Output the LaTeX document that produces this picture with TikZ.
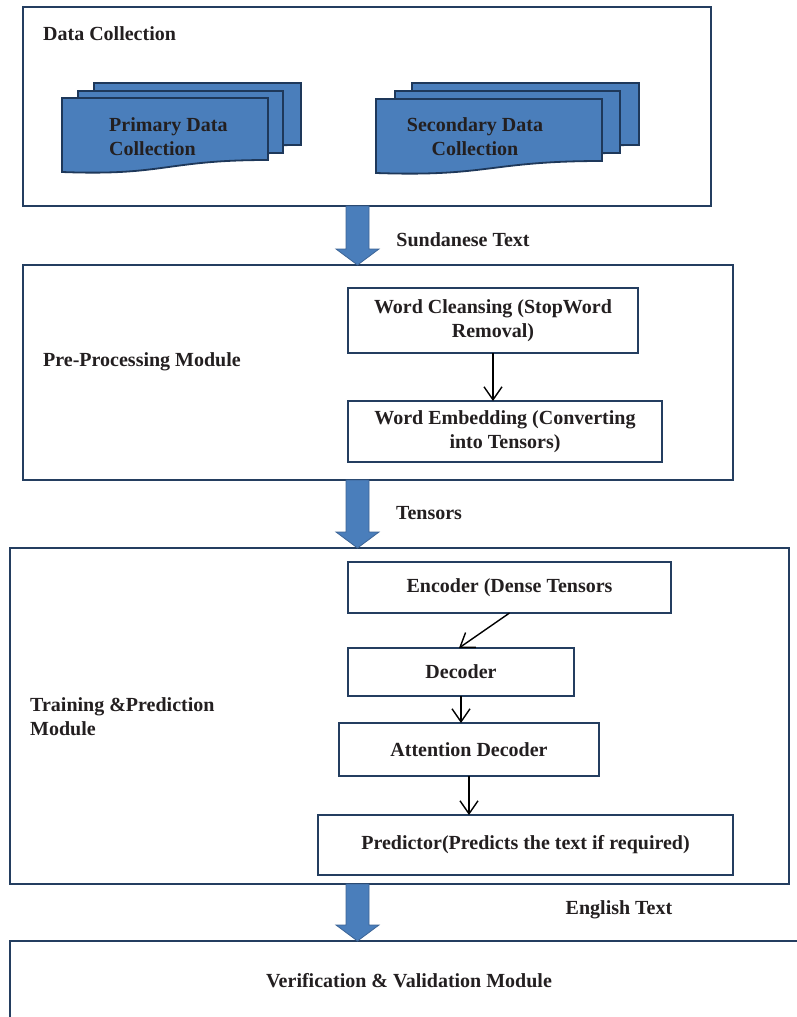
\documentclass[tikz,border=0pt]{standalone}
\usepackage{fontspec}
\setmainfont{Liberation Serif}
\usetikzlibrary{arrows.meta,calc}
\definecolor{navy}{RGB}{36,62,96}
\definecolor{docblue}{RGB}{74,126,187}
\definecolor{docline}{RGB}{30,56,90}
\definecolor{arrline}{RGB}{60,100,150}
\definecolor{txt}{RGB}{35,31,32}
\newcommand\docshape[3]{%
  \draw[docpage] (#1,#2) -- ++(#3,0) -- ++(0,62)
    .. controls +(-#3/2,0) and +(#3/2,4) .. ++(-#3,12) -- cycle;}
\newcommand\bigarr[2]{%
  \draw[bigarrow] let \p1=(#1), \p2=(#2) in
    (\x1-11.5pt,\y1) -- (\x1+11.5pt,\y1) -- (\x1+11.5pt,\y2+16pt) -- (\x1+21.5pt,\y2+16pt)
    -- (\x1,\y2) -- (\x1-21.5pt,\y2+16pt) -- (\x1-11.5pt,\y2+16pt) -- cycle;}
\begin{document}
\begin{tikzpicture}[x=1pt,y=-1pt,
  every node/.style={font=\fontsize{20}{24}\selectfont\bfseries, text=txt},
  modbox/.style={draw=navy, line width=2pt, inner sep=0pt, outer sep=0pt, rectangle},
  stepbox/.style={draw=navy, line width=2pt, inner sep=0pt, outer sep=0pt, align=center},
  lbl/.style={inner sep=0pt, anchor=west, align=left},
  docpage/.style={fill=docblue, draw=docline, line width=1.8pt, line join=miter},
  bigarrow/.style={fill=docblue, draw=arrline, line width=0.8pt},
  thinarrow/.style={draw=black, line width=1.4pt, -{Straight Barb[length=13pt,width=18pt]}},
]
\useasboundingbox (0,0) rectangle (796,1017);
\fill[white] (0,0) rectangle (796,1017);

% module boxes
\node[modbox, minimum width=688pt, minimum height=199pt] (box1) at (367,106.5) {};
\node[modbox, minimum width=710pt, minimum height=215pt] (box2) at (378,372.5) {};
\node[modbox, minimum width=779pt, minimum height=336pt] (box3) at (399.5,716) {};
\node[modbox, minimum width=810pt, minimum height=99pt] (box4) at (415,990.5) {};

% documents
\docshape{94}{83}{207}
\docshape{78}{91}{205}
\docshape{62}{98}{206}
\docshape{412}{83}{227}
\docshape{395}{91}{225}
\docshape{376}{99}{226}
\node[lbl] (prim) at (109,137) {Primary Data\\Collection};
\node[align=center, inner sep=0pt] (sec) at (475,137) {Secondary Data\\Collection};

% labels
\node[lbl] (l1) at (43,34) {Data Collection};
\node[lbl] (l2) at (43,362) {Pre-Processing Module};
\node[lbl] (l3) at (30,717) {Training \&Prediction\\Module};
\node[inner sep=0pt] (l4) at (463,240) {Sundanese Text};
\node[inner sep=0pt] (l5) at (429,513) {Tensors};
\node[inner sep=0pt] (l6) at (619,910) {English Text};
\node[inner sep=0pt] (l7) at (409,981) {Verification \& Validation Module};

% inner step boxes
\node[stepbox, minimum width=290pt, minimum height=65pt] (wc) at (493,320.5) {Word Cleansing (StopWord\\Removal)};
\node[stepbox, minimum width=314pt, minimum height=61pt] (we) at (505,431.5) {Word Embedding (Converting\\into Tensors)};
\node[stepbox, minimum width=323pt, minimum height=51pt] (enc) at (509.5,587.5) {Encoder (Dense Tensors};
\node[stepbox, minimum width=226pt, minimum height=48pt] (dec) at (461,672) {Decoder};
\node[stepbox, minimum width=260pt, minimum height=53pt] (att) at (469,749.5) {Attention Decoder};
\node[stepbox, minimum width=415pt, minimum height=60pt] (pred) at (525.5,845) {Predictor(Predicts the text if required)};

% thin connectors
\draw[thinarrow] (wc.south) -- (wc.south |- we.north);
\draw[thinarrow] (enc.south) -- ([xshift=-2pt]dec.north);
\draw[thinarrow] (dec.south) -- (dec.south |- att.north);
\draw[thinarrow] (att.south) -- (att.south |- pred.north);

% big arrows
\coordinate (ax) at (357.5,0);
\bigarr{box1.south -| ax}{box2.north -| ax}
\bigarr{box2.south -| ax}{box3.north -| ax}
\bigarr{box3.south -| ax}{box4.north -| ax}
\end{tikzpicture}
\end{document}
